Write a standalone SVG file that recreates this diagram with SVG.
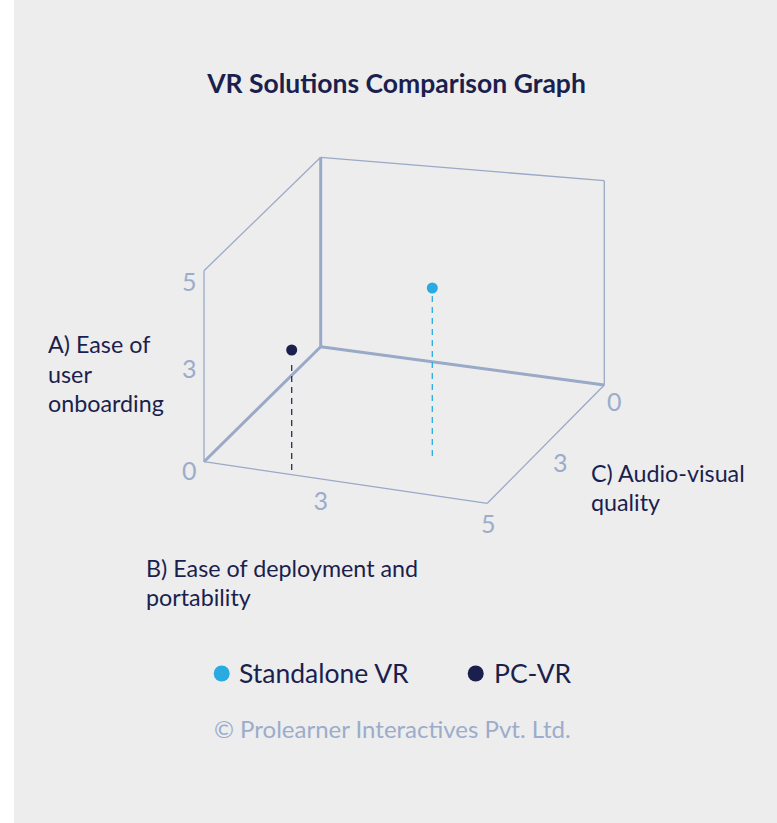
<svg xmlns="http://www.w3.org/2000/svg" width="777" height="823" viewBox="0 0 777 823">
<style>
.bg{fill:#ededed}
.title{font-family:Lato,"Liberation Sans",sans-serif;font-weight:700;font-size:26.5px;fill:#1b1f4d}
.lbl{font-family:Lato,"Liberation Sans",sans-serif;font-size:23.3px;fill:#1b1f4d}
.tick{font-family:Lato,"Liberation Sans",sans-serif;font-size:25px;fill:#9caccb}
.leg{font-family:Lato,"Liberation Sans",sans-serif;font-size:26.5px;fill:#1b1f4d}
.copy{font-family:Lato,"Liberation Sans",sans-serif;font-size:24px;fill:#9caccb}
.thin{stroke:#9aa9c7;stroke-width:1.3;fill:none}
.thick{stroke:#9aa9c7;stroke-width:3;fill:none}
</style>
<rect x="0" y="0" width="777" height="823" fill="#ffffff"/>
<rect class="bg" x="14" y="0" width="763" height="823"/>
<text class="title" x="396.5" y="93" text-anchor="middle">VR Solutions Comparison Graph</text>
<g id="axes">
<line class="thin" x1="320.7" y1="157.3" x2="604.3" y2="180.7"/>
<line class="thin" x1="604.3" y1="180.7" x2="604.3" y2="385"/>
<line class="thin" x1="204" y1="270.7" x2="320.7" y2="157.3"/>
<line class="thin" x1="204" y1="270.7" x2="204" y2="461.7"/>
<line class="thin" x1="204" y1="461.7" x2="487.3" y2="503.3"/>
<line class="thin" x1="487.3" y1="503.3" x2="604.3" y2="385"/>
<line class="thick" x1="320.7" y1="157.3" x2="320.7" y2="346.7"/>
<line class="thick" x1="320.7" y1="346.7" x2="604.3" y2="385"/>
<line class="thick" x1="204" y1="461.7" x2="320.7" y2="346.7"/>
</g>
<g id="ticks">
<text class="tick" x="182" y="291">5</text>
<text class="tick" x="182" y="378">3</text>
<text class="tick" x="182" y="480">0</text>
<text class="tick" x="313.5" y="510">3</text>
<text class="tick" x="481" y="533">5</text>
<text class="tick" x="607" y="411">0</text>
<text class="tick" x="553" y="472">3</text>
</g>
<g id="axis-labels">
<text class="lbl" x="48" y="353">A) Ease of</text>
<text class="lbl" x="48" y="383">user</text>
<text class="lbl" x="48" y="412">onboarding</text>
<text class="lbl" x="146" y="577">B) Ease of deployment and</text>
<text class="lbl" x="146" y="606">portability</text>
<text class="lbl" x="591" y="482">C) Audio-visual</text>
<text class="lbl" x="591" y="511">quality</text>
</g>
<g id="connectors">
<line x1="291.7" y1="365" x2="291.7" y2="475" stroke="#2a2d55" stroke-width="1.3" stroke-dasharray="6,5"/>
<line x1="432.3" y1="296" x2="432.3" y2="458" stroke="#29abe2" stroke-width="1.3" stroke-dasharray="6,5"/>
</g>
<g id="pc-vr">
<circle cx="291.7" cy="350" r="5.5" fill="#1b1f4d"/>
</g>
<g id="standalone-vr">
<circle cx="432.3" cy="288" r="5.5" fill="#29abe2"/>
</g>
<g id="legend">
<circle cx="221.7" cy="673.5" r="8" fill="#29abe2"/>
<text class="leg" x="239" y="683">Standalone VR</text>
<circle cx="475.7" cy="673.5" r="8" fill="#1b1f4d"/>
<text class="leg" x="494" y="683">PC-VR</text>
</g>
<text class="copy" x="214" y="738">© Prolearner Interactives Pvt. Ltd.</text>
</svg>
